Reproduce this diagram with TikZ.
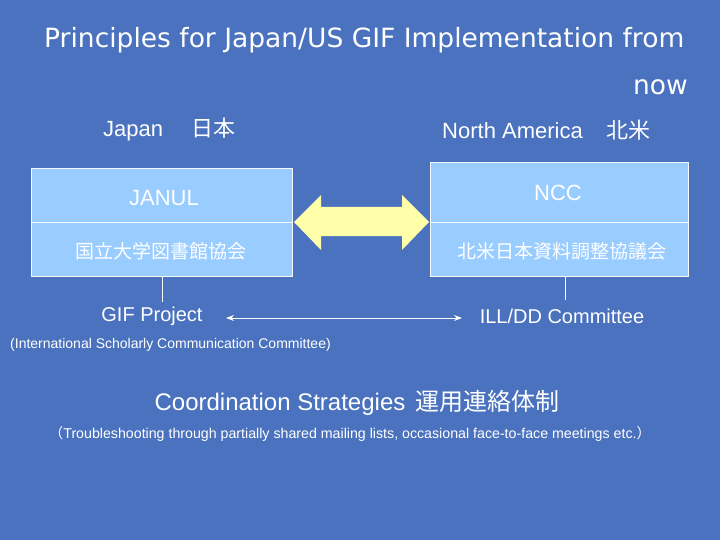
\documentclass[tikz,border=0pt]{standalone}
\usepackage{fontspec}
\usetikzlibrary{arrows.meta}
\setmainfont{Liberation Sans}
\newfontfamily\titlefont{DejaVu Sans}
\newfontfamily\cjk{Noto Sans CJK JP}
\definecolor{bg}{HTML}{4A72BE}
\definecolor{boxc}{HTML}{99CCFF}
\definecolor{arr}{HTML}{FFFFAA}
\begin{document}
\begin{tikzpicture}[x=1pt,y=-1pt,
  txt/.style={text=white,inner sep=0pt},
  bx/.style={fill=boxc,draw=white!90!boxc,line width=0.8pt,minimum width=261pt,minimum height=54pt,inner sep=0pt},
  ln/.style={draw=white,line width=0.6pt}]
\fill[bg] (0,0) rectangle (720,540);
\useasboundingbox (0,0) rectangle (720,540);
\node[txt,anchor=west,font=\titlefont\fontsize{26.5}{30}\selectfont] (t1) at (44,40) {Principles for Japan/US GIF Implementation from};
\node[txt,anchor=east,font=\titlefont\fontsize{26.5}{30}\selectfont] (t2) at (688,87) {now};
\node[txt,anchor=west,font=\fontsize{22}{26}\selectfont] (jp) at (103,130) {Japan\hspace{28pt}{\cjk 日本}};
\node[txt,anchor=west,font=\fontsize{22}{26}\selectfont] (na) at (442,130) {North America\hspace{24pt}{\cjk 北米}};
\node[bx,anchor=north west] (b1) at (31,168) {};
\node[bx,anchor=north west] (b2) at (31,222) {};
\node[bx,anchor=north west,minimum width=258pt,minimum height=60pt] (b3) at (430,162) {};
\node[bx,anchor=north west,minimum width=258pt] (b4) at (430,222) {};
\node[txt,font=\fontsize{22}{26}\selectfont] (janul) at (164,198) {JANUL};
\node[txt,font=\cjk\fontsize{19}{22}\selectfont] (jk) at (161,251) {国立大学図書館協会};
\node[txt,font=\fontsize{22}{26}\selectfont] (ncc) at (558,193) {NCC};
\node[txt,font=\cjk\fontsize{19}{22}\selectfont] (nk) at (562,251) {北米日本資料調整協議会};
\fill[arr] (294,222) -- (321,195) -- (321,207) -- (402,207) -- (402,195) -- (429,222) -- (402,250) -- (402,236) -- (321,236) -- (321,250) -- cycle;
\node[txt,font=\fontsize{20}{24}\selectfont] (gif) at (152,316) {GIF Project};
\node[txt,font=\fontsize{20}{24}\selectfont] (ill) at (562,316) {ILL/DD Committee};
\draw[ln] (b2.south -| 162,0) -- (162,302);
\draw[ln] (565,276) -- (565,300);
\draw[ln,line width=1pt,{Stealth[length=8pt,width=6pt]}-{Stealth[length=8pt,width=6pt]}] (226,318) -- (462,318);
\node[txt,anchor=west,font=\fontsize{14}{16}\selectfont] (isc) at (10,345) {(International Scholarly Communication Committee)};
\node[txt,font=\fontsize{24}{28}\selectfont] (cs) at (357,403) {Coordination Strategies\hspace{10pt}{\cjk 運用連絡体制}};
\node[txt,font=\fontsize{14.2}{16}\selectfont] (tr) at (350,434) {{\cjk （}Troubleshooting through partially shared mailing lists, occasional face-to-face meetings etc.{\cjk ）}};
\end{tikzpicture}
\end{document}
